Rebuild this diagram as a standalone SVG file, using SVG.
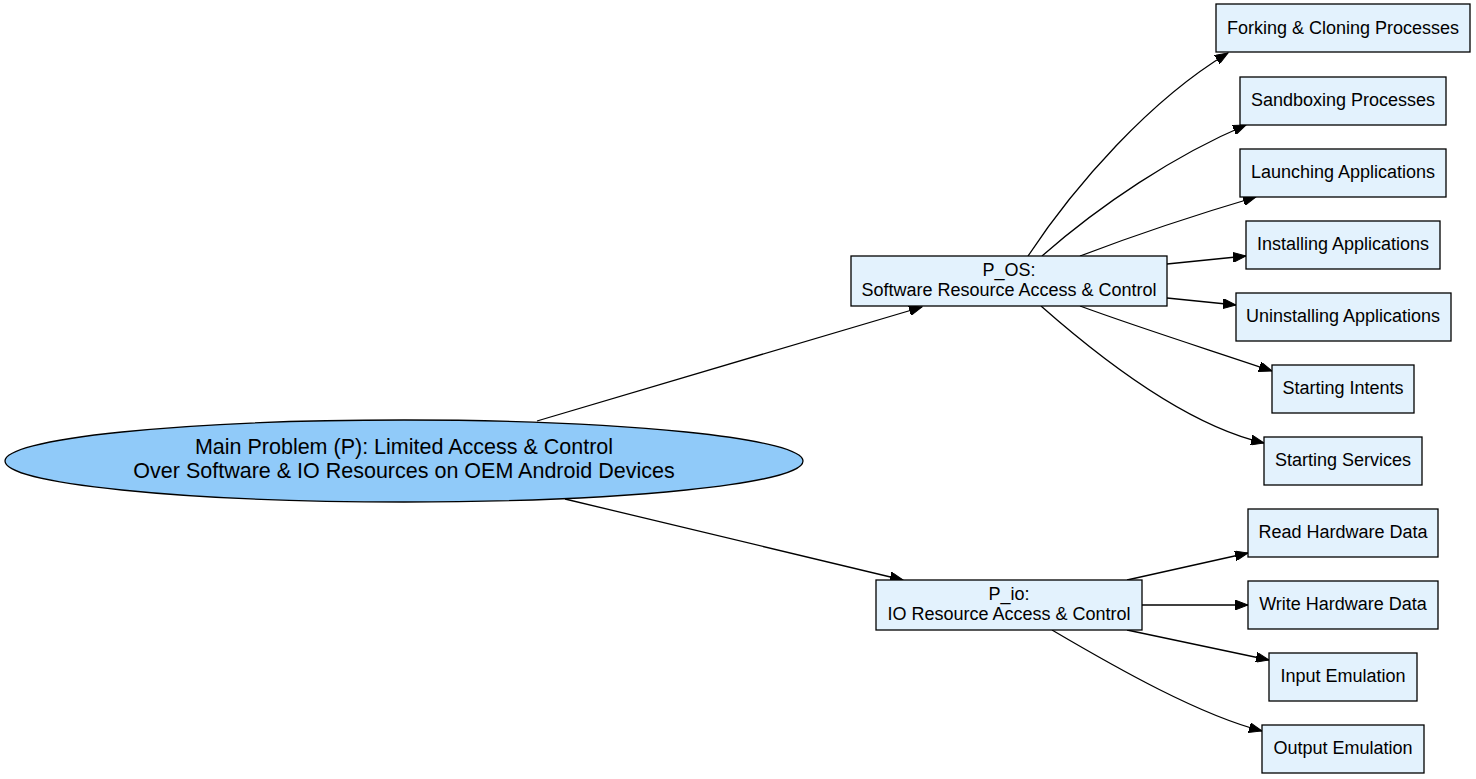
<svg xmlns="http://www.w3.org/2000/svg" width="1476" height="779" viewBox="0 0 1476 779">
<style>
text{font-family:"Liberation Sans",Arial,sans-serif;fill:#000;text-anchor:middle}
.box{fill:#e3f2fd;stroke:#000;stroke-width:1.3}
.main{fill:#90caf9;stroke:#000;stroke-width:1.3}
.t{font-size:18px}
.tm{font-size:21.5px}
.edge{fill:none;stroke:#000;stroke-width:1.3;marker-end:url(#arr)}
</style>
<defs>
<marker id="arr" markerUnits="userSpaceOnUse" markerWidth="14" markerHeight="10" refX="13" refY="5" orient="auto">
<path d="M0,0 L13,5 L0,10 Z" fill="#000" stroke="#000" stroke-width="1"/>
</marker>
</defs>
<rect width="1476" height="779" fill="#fff"/>
<g id="connectors">
<path class="edge" d="M537,421 L922,307"/>
<path class="edge" d="M565,499 L903,580"/>
<path class="edge" d="M1028,256 C1075,185 1150,100 1228,53"/>
<path class="edge" d="M1042,256 C1100,205 1175,155 1246,125"/>
<path class="edge" d="M1080,256 C1130,237 1195,215 1256,197"/>
<path class="edge" d="M1167,264 L1246,256"/>
<path class="edge" d="M1167,298 L1236,305"/>
<path class="edge" d="M1080,306 C1140,328 1210,350 1272,371"/>
<path class="edge" d="M1041,306 C1100,358 1185,425 1264,443"/>
<path class="edge" d="M1127,580 L1248,553"/>
<path class="edge" d="M1142,605 L1248,605"/>
<path class="edge" d="M1127,630 L1269,660"/>
<path class="edge" d="M1052,630 C1120,670 1200,715 1262,731"/>
</g>
<g id="main">
<ellipse class="main" cx="404" cy="461" rx="399" ry="41"/>
<text class="tm" x="404" y="454">Main Problem (P): Limited Access &amp; Control</text>
<text class="tm" x="404" y="478">Over Software &amp; IO Resources on OEM Android Devices</text>
</g>
<g id="p_os">
<rect class="box" x="851" y="256" width="316" height="50"/>
<text class="t" x="1009" y="276">P_OS:</text>
<text class="t" x="1009" y="296">Software Resource Access &amp; Control</text>
</g>
<g id="p_io">
<rect class="box" x="876" y="580" width="266" height="50"/>
<text class="t" x="1009" y="600">P_io:</text>
<text class="t" x="1009" y="620">IO Resource Access &amp; Control</text>
</g>
<g id="forking">
<rect class="box" x="1216" y="4" width="254" height="48"/>
<text class="t" x="1343" y="34">Forking &amp; Cloning Processes</text>
</g>
<g id="sandboxing">
<rect class="box" x="1240" y="77" width="206" height="48"/>
<text class="t" x="1343" y="106">Sandboxing Processes</text>
</g>
<g id="launching">
<rect class="box" x="1240" y="149" width="206" height="48"/>
<text class="t" x="1343" y="178">Launching Applications</text>
</g>
<g id="installing">
<rect class="box" x="1246" y="221" width="194" height="48"/>
<text class="t" x="1343" y="250">Installing Applications</text>
</g>
<g id="uninstalling">
<rect class="box" x="1236" y="293" width="215" height="48"/>
<text class="t" x="1343" y="322">Uninstalling Applications</text>
</g>
<g id="intents">
<rect class="box" x="1272" y="365" width="142" height="48"/>
<text class="t" x="1343" y="394">Starting Intents</text>
</g>
<g id="services">
<rect class="box" x="1264" y="437" width="158" height="48"/>
<text class="t" x="1343" y="466">Starting Services</text>
</g>
<g id="read">
<rect class="box" x="1248" y="509" width="190" height="48"/>
<text class="t" x="1343" y="538">Read Hardware Data</text>
</g>
<g id="write">
<rect class="box" x="1248" y="581" width="190" height="48"/>
<text class="t" x="1343" y="610">Write Hardware Data</text>
</g>
<g id="input">
<rect class="box" x="1269" y="653" width="148" height="48"/>
<text class="t" x="1343" y="682">Input Emulation</text>
</g>
<g id="output">
<rect class="box" x="1262" y="725" width="162" height="48"/>
<text class="t" x="1343" y="754">Output Emulation</text>
</g>
</svg>
